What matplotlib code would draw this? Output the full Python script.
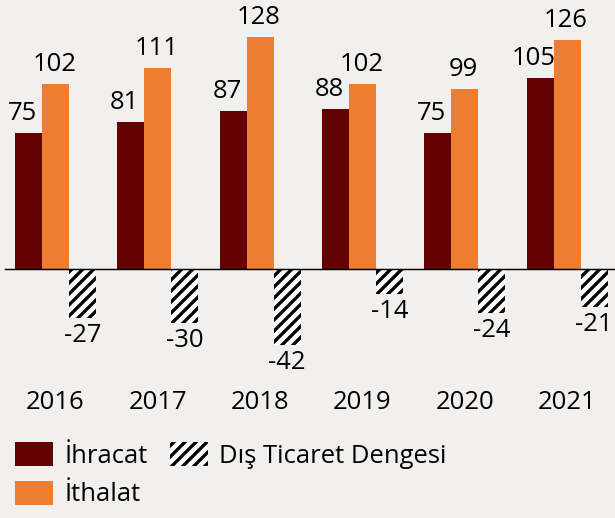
import matplotlib
matplotlib.use("Agg")
import matplotlib.pyplot as plt
import numpy as np

years = ["2016", "2017", "2018", "2019", "2020", "2021"]
ihracat = [75, 81, 87, 88, 75, 105]
ithalat = [102, 111, 128, 102, 99, 126]
denge = [-27, -30, -42, -14, -24, -21]
labels = ["İhracat", "İthalat", "Dış Ticaret Dengesi"]

c_ihr = "#630000"
c_ith = "#ED7D31"
bg = "#F2F0EE"

DPI = 66
W, H = 615, 518
plt.rcParams['font.family'] = ['Open Sans', 'DejaVu Sans']
plt.rcParams['hatch.linewidth'] = 3.6
plt.rcParams['hatch.color'] = 'black'

fig = plt.figure(figsize=(W / DPI, H / DPI), dpi=DPI, facecolor=bg)
ax = fig.add_axes([0, 1 - 380 / H, 1, 380 / H])
ax.set_facecolor(bg)

spacing = 102.3
x = np.arange(len(years))
w = 27 / spacing
ax.set_xlim((0 - 55.5) / spacing, (W - 55.5) / spacing)
ppu = 1.815
ax.set_ylim(-(380 - 269) / ppu, 269 / ppu)

b1 = ax.bar(x - w, ihracat, w, color=c_ihr, label=labels[0])
b2 = ax.bar(x, ithalat, w, color=c_ith, label=labels[1])
b3 = ax.bar(x + w, denge, w, color='white', edgecolor='black', linewidth=0,
            hatch='//', label=labels[2])

ax.axhline(0, xmin=5 / W, xmax=1, color='black', lw=1.6)

fs = 28
for i in range(len(years)):
    ax.annotate(str(ihracat[i]), (x[i] - w, ihracat[i]), xytext=(-6, 7),
                textcoords='offset pixels', ha='center', va='bottom', fontsize=fs)
    ax.annotate(str(ithalat[i]), (x[i], ithalat[i]), xytext=(-1, 7),
                textcoords='offset pixels', ha='center', va='bottom', fontsize=fs)
    ax.annotate(str(denge[i]), (x[i] + w, denge[i]), xytext=(0, -5),
                textcoords='offset pixels', ha='center', va='top', fontsize=fs)

ax.set_xticks(x, years)
ax.tick_params(axis='x', length=0, pad=11, labelsize=fs)
ax.set_yticks([])
for s in ax.spines.values():
    s.set_visible(False)

fig.legend(handles=[b1, b2, b3], labels=labels, ncol=2, frameon=False,
           loc='upper left', bbox_to_anchor=(15 / W, 1 - 442 / H),
           fontsize=fs, handlelength=1.48, handleheight=1.09,
           handletextpad=0.45, columnspacing=0.85, labelspacing=0.45,
           borderpad=0, borderaxespad=0)

fig.savefig("out.png", dpi=DPI, facecolor=bg)
